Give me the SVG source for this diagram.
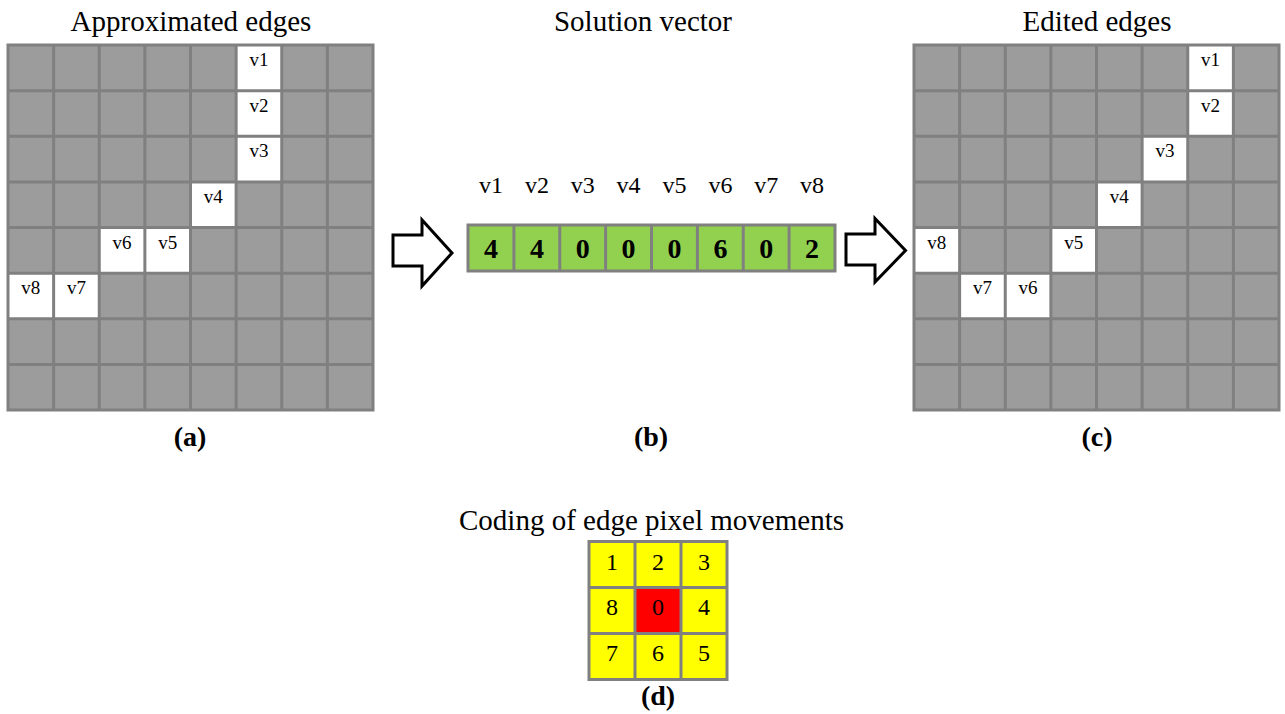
<svg xmlns="http://www.w3.org/2000/svg" width="1285" height="714" viewBox="0 0 1285 714">
<style>
.t{font-family:"Liberation Serif","Times New Roman",serif;fill:#000}
.title{font-size:29px;text-anchor:middle}
.cap{font-size:28px;font-weight:bold;text-anchor:middle}
.vl{font-size:19px;text-anchor:middle}
.vh{font-size:24px;text-anchor:middle}
.num{font-size:28px;font-weight:bold;text-anchor:middle}
.code{font-size:24px;text-anchor:middle}
.bg{fill:#9c9c9c}
.w{fill:#ffffff}
.gl{stroke:#808080;stroke-width:3;fill:none}
.arr{fill:#ffffff;stroke:#000;stroke-width:3;stroke-linejoin:miter}
</style>
<defs>
<g id="gridlines">
<path class="gl" d="M0 0H365V365H0Z M45.625 0V365 M91.25 0V365 M136.875 0V365 M182.5 0V365 M228.125 0V365 M273.75 0V365 M319.375 0V365 M0 45.625H365 M0 91.25H365 M0 136.875H365 M0 182.5H365 M0 228.125H365 M0 273.75H365 M0 319.375H365"/>
</g>
</defs>
<rect width="1285" height="714" fill="#ffffff"/>

<g id="grid-a" transform="translate(8,45)">
<rect class="bg" x="0" y="0" width="365" height="365"/>
<rect class="w" x="228.125" y="0" width="45.625" height="45.625"/>
<rect class="w" x="228.125" y="45.625" width="45.625" height="45.625"/>
<rect class="w" x="228.125" y="91.25" width="45.625" height="45.625"/>
<rect class="w" x="182.5" y="136.875" width="45.625" height="45.625"/>
<rect class="w" x="91.25" y="182.5" width="45.625" height="45.625"/>
<rect class="w" x="136.875" y="182.5" width="45.625" height="45.625"/>
<rect class="w" x="0" y="228.125" width="45.625" height="45.625"/>
<rect class="w" x="45.625" y="228.125" width="45.625" height="45.625"/>
<use href="#gridlines"/>
<text class="t vl" x="250.9" y="21">v1</text>
<text class="t vl" x="250.9" y="66.6">v2</text>
<text class="t vl" x="250.9" y="112.3">v3</text>
<text class="t vl" x="205.3" y="157.9">v4</text>
<text class="t vl" x="114.1" y="203.5">v6</text>
<text class="t vl" x="159.7" y="203.5">v5</text>
<text class="t vl" x="22.8" y="249.1">v8</text>
<text class="t vl" x="68.4" y="249.1">v7</text>
</g>
<text class="t title" x="191" y="31">Approximated edges</text>
<text class="t cap" x="190" y="446">(a)</text>

<g id="vector">
<text class="t title" x="643" y="31">Solution vector</text>
<rect x="468" y="225" width="367" height="46" fill="#92d050" stroke="#808080" stroke-width="3"/>
<path d="M513.9 225V271 M559.75 225V271 M605.6 225V271 M651.5 225V271 M697.4 225V271 M743.25 225V271 M789.1 225V271" stroke="#808080" stroke-width="3"/>
<text class="t vh" x="491" y="193">v1</text>
<text class="t vh" x="536.9" y="193">v2</text>
<text class="t vh" x="582.8" y="193">v3</text>
<text class="t vh" x="628.6" y="193">v4</text>
<text class="t vh" x="674.5" y="193">v5</text>
<text class="t vh" x="720.4" y="193">v6</text>
<text class="t vh" x="766.2" y="193">v7</text>
<text class="t vh" x="812.1" y="193">v8</text>
<text class="t num" x="491" y="258">4</text>
<text class="t num" x="536.9" y="258">4</text>
<text class="t num" x="582.8" y="258">0</text>
<text class="t num" x="628.6" y="258">0</text>
<text class="t num" x="674.5" y="258">0</text>
<text class="t num" x="720.4" y="258">6</text>
<text class="t num" x="766.2" y="258">0</text>
<text class="t num" x="812.1" y="258">2</text>
</g>
<text class="t cap" x="651" y="446">(b)</text>

<g id="grid-c" transform="translate(914,45)">
<rect class="bg" x="0" y="0" width="365" height="365"/>
<rect class="w" x="273.75" y="0" width="45.625" height="45.625"/>
<rect class="w" x="273.75" y="45.625" width="45.625" height="45.625"/>
<rect class="w" x="228.125" y="91.25" width="45.625" height="45.625"/>
<rect class="w" x="182.5" y="136.875" width="45.625" height="45.625"/>
<rect class="w" x="136.875" y="182.5" width="45.625" height="45.625"/>
<rect class="w" x="0" y="182.5" width="45.625" height="45.625"/>
<rect class="w" x="45.625" y="228.125" width="45.625" height="45.625"/>
<rect class="w" x="91.25" y="228.125" width="45.625" height="45.625"/>
<use href="#gridlines"/>
<text class="t vl" x="296.6" y="21">v1</text>
<text class="t vl" x="296.6" y="66.6">v2</text>
<text class="t vl" x="250.9" y="112.3">v3</text>
<text class="t vl" x="205.3" y="157.9">v4</text>
<text class="t vl" x="159.7" y="203.5">v5</text>
<text class="t vl" x="22.8" y="203.5">v8</text>
<text class="t vl" x="68.4" y="249.1">v7</text>
<text class="t vl" x="114.1" y="249.1">v6</text>
</g>
<text class="t title" x="1097" y="31">Edited edges</text>
<text class="t cap" x="1097" y="446">(c)</text>

<g id="coding" transform="translate(589,541.5)">
<rect x="0" y="0" width="138" height="138" fill="#ffff00"/>
<rect x="46" y="46" width="46" height="46" fill="#ff0000"/>
<path class="gl" d="M0 0H138V138H0Z M46 0V138 M92 0V138 M0 46H138 M0 92H138"/>
<text class="t code" x="23" y="28">1</text>
<text class="t code" x="69" y="28">2</text>
<text class="t code" x="115" y="28">3</text>
<text class="t code" x="23" y="73">8</text>
<text class="t code" x="69" y="73">0</text>
<text class="t code" x="115" y="73">4</text>
<text class="t code" x="23" y="119">7</text>
<text class="t code" x="69" y="119">6</text>
<text class="t code" x="115" y="119">5</text>
</g>
<text class="t title" x="651.5" y="530">Coding of edge pixel movements</text>
<text class="t cap" x="658" y="705">(d)</text>

<g id="connectors">
<path class="arr" d="M393 235H422V220L452 253L422 286V266H393Z"/>
<path class="arr" d="M846 234H875V218.5L905.5 250.5L875 282V265H846Z"/>
</g>
</svg>
